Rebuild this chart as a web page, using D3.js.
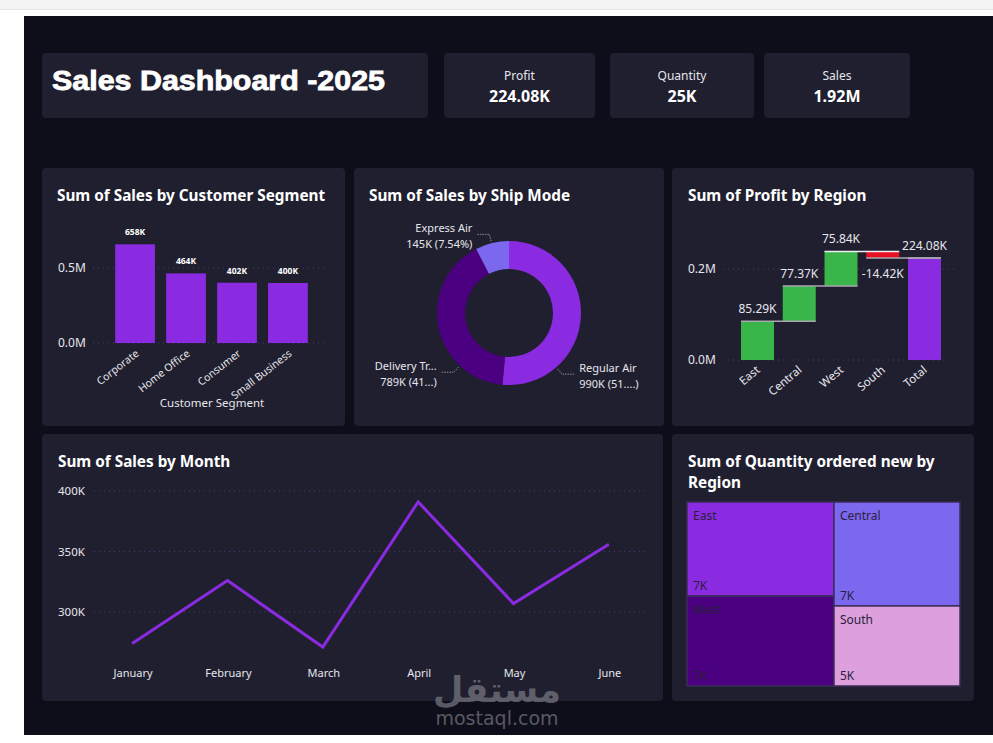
<!DOCTYPE html>
<html>
<head>
<meta charset="utf-8">
<script src="https://cdn.jsdelivr.net/npm/d3@7"></script>
<style>
body { margin: 0; background: #fff; }
svg { display: block; font-family: "Noto Sans", sans-serif; }
</style>
</head>
<body>
<div id="dash"></div>
<script>
// ---- data ----
var kpiNames = ["Profit", "Quantity", "Sales"]
var kpiValues = ["224.08K", "25K", "1.92M"]

var segments = ["Corporate", "Home Office", "Consumer", "Small Business"]
var segmentSales = [658000, 464000, 402000, 400000]
var segmentLabels = ["658K", "464K", "402K", "400K"]

var shipModes = ["Regular Air", "Delivery Truck", "Express Air"]
var shipSales = [990000, 789000, 145000]
var shipLabels = [["Regular Air", "990K (51....)"], ["Delivery Tr...", "789K (41...)"], ["Express Air", "145K (7.54%)"]]

var regions = ["East", "Central", "West", "South"]
var regionProfit = [85290, 77370, 75840, -14420]
var profitLabels = ["85.29K", "77.37K", "75.84K", "-14.42K"]
var totalLabel = "224.08K"

var months = ["January", "February", "March", "April", "May", "June"]
var monthSales = [274000, 326000, 271000, 391000, 307000, 356000]

var qtyRegions = ["East", "West", "Central", "South"]
var qtyValues = [6880, 6580, 6520, 5020]
var qtyLabels = ["7K", "7K", "7K", "5K"]

var purple = "#8a2be2", indigo = "#4b0082", slate = "#7b68ee", plum = "#dda0dd"
var panelFill = "#201f2f", txt = "#e6e6ec", grid = "#4a3a74"

var width = 993, height = 743

var svg = d3.select("#dash").append("svg")
  .attr("width", width)
  .attr("height", height)

// page chrome
svg.append("rect").attr("width", width).attr("height", 9).attr("fill", "#f3f3f3")
svg.append("line").attr("x1", 0).attr("x2", width).attr("y1", 9.5).attr("y2", 9.5).attr("stroke", "#e4e4e4")
svg.append("rect").attr("x", 24).attr("y", 16).attr("width", width - 24).attr("height", 719).attr("fill", "#0e0e1a")

function panel(x, y, w, h) {
  svg.append("rect").attr("x", x).attr("y", y).attr("width", w).attr("height", h)
    .attr("rx", 4).attr("fill", panelFill)
}
function title(x, y, s) {
  svg.append("text").attr("x", x).attr("y", y).text(s)
    .attr("fill", "#fff").attr("font-size", 15.3).attr("font-weight", "bold")
}

// ---- header ----
panel(42, 53, 386, 65)
svg.append("text").attr("x", 52).attr("y", 90).text("Sales Dashboard -2025")
  .attr("font-family", "Liberation Sans, Arial, sans-serif")
  .attr("font-weight", "bold").attr("font-size", 27)
  .attr("fill", "#fff").attr("stroke", "#fff").attr("stroke-width", 0.8)
  .attr("textLength", 333).attr("lengthAdjust", "spacingAndGlyphs")

var kpiBoxes = [[444, 151], [610, 144], [764, 146]]
kpiNames.forEach(function (k, i) {
  var b = kpiBoxes[i]
  panel(b[0], 53, b[1], 65)
  svg.append("text").attr("x", b[0] + b[1] / 2).attr("y", 80).text(k)
    .attr("text-anchor", "middle").attr("fill", txt).attr("font-size", 12)
  svg.append("text").attr("x", b[0] + b[1] / 2).attr("y", 102).text(kpiValues[i])
    .attr("text-anchor", "middle").attr("fill", "#fff").attr("font-size", 16).attr("font-weight", "bold")
})

// ---- Sum of Sales by Customer Segment ----
panel(42, 168, 303, 258)
title(57, 201, "Sum of Sales by Customer Segment")

var xSeg = d3.scaleBand().domain(segments).range([105, 318]).paddingInner(0.22).paddingOuter(0.2)
var ySeg = d3.scaleLinear().domain([0, 500000]).range([343, 268])

var g1 = svg.append("g")
g1.selectAll(".grid").data([0, 500000]).enter().append("line")
  .attr("x1", 93).attr("x2", 325)
  .attr("y1", function (d) { return ySeg(d) }).attr("y2", function (d) { return ySeg(d) })
  .attr("stroke", grid).attr("stroke-dasharray", "1,4")
g1.selectAll(".yl").data([0, 500000]).enter().append("text")
  .attr("x", 58).attr("y", function (d) { return ySeg(d) + 4 })
  .text(function (d) { return d3.format(".1f")(d / 1e6) + "M" })
  .attr("fill", txt).attr("font-size", 12)
g1.selectAll("rect.bar").data(segmentSales).enter().append("rect")
  .attr("x", function (d, i) { return xSeg(segments[i]) })
  .attr("width", xSeg.bandwidth())
  .attr("y", function (d) { return ySeg(d) })
  .attr("height", function (d) { return ySeg(0) - ySeg(d) })
  .attr("fill", purple)
g1.selectAll(".vl").data(segmentSales).enter().append("text")
  .attr("x", function (d, i) { return xSeg(segments[i]) + xSeg.bandwidth() / 2 })
  .attr("y", function (d) { return ySeg(d) - 9 })
  .text(function (d, i) { return segmentLabels[i] })
  .attr("text-anchor", "middle").attr("fill", "#fff").attr("font-size", 8.5).attr("font-weight", "bold")
g1.selectAll(".xl").data(segments).enter().append("text")
  .attr("transform", function (d) { return "translate(" + (xSeg(d) + xSeg.bandwidth() / 2) + ",349) rotate(-38)" })
  .attr("text-anchor", "end").attr("dy", "0.7em")
  .text(function (d) { return d })
  .attr("fill", txt).attr("font-size", 10.5)
svg.append("text").attr("x", 212).attr("y", 407).text("Customer Segment")
  .attr("text-anchor", "middle").attr("fill", txt).attr("font-size", 11.5)

// ---- Sum of Sales by Ship Mode ----
panel(354, 168, 310, 258)
title(369, 201, "Sum of Sales by Ship Mode")

var cx = 509, cy = 313, rOut = 72, rIn = 44
var pie = d3.pie().sort(null)
var arcs = pie(shipSales)
var arc = d3.arc().innerRadius(rIn).outerRadius(rOut)
var shipColors = [purple, indigo, slate]
var g2 = svg.append("g").attr("transform", "translate(" + cx + "," + cy + ")")
g2.selectAll("path").data(arcs).enter().append("path")
  .attr("d", arc).attr("fill", function (d, i) { return shipColors[i] })

// leader-line angles (degrees clockwise from top), placed like the original
var labelAngles = [139, 223, 346]
function polar(a, r) {
  var t = a * Math.PI / 180
  return [Math.sin(t) * r, -Math.cos(t) * r]
}
shipModes.forEach(function (m, i) {
  var a = labelAngles[i]
  var p0 = polar(a, rOut + 2), p1 = polar(a, rOut + 9)
  var side = a < 180 ? 1 : -1
  var p2 = [p1[0] + side * 13, p1[1]]
  g2.append("polyline")
    .attr("points", [p0, p1, p2].map(function (p) { return p.join(",") }).join(" "))
    .attr("fill", "none").attr("stroke", "#8a8a96").attr("stroke-width", 1).attr("stroke-dasharray", "1.5,1")
  var t = g2.append("text")
    .attr("text-anchor", side > 0 ? "start" : "end")
    .attr("fill", txt).attr("font-size", 11)
  t.append("tspan").attr("x", p2[0] + side * 4).attr("y", p2[1] - 2).text(shipLabels[i][0])
  t.append("tspan").attr("x", p2[0] + side * 4).attr("y", p2[1] + 14).text(shipLabels[i][1])
})

// ---- Sum of Profit by Region (waterfall) ----
panel(672, 168, 302, 258)
title(688, 201, "Sum of Profit by Region")

var steps = []
var cum = 0
regionProfit.forEach(function (v, i) {
  steps.push({ name: regions[i], start: cum, end: cum + v, label: profitLabels[i], kind: v >= 0 ? "up" : "down" })
  cum += v
})
steps.push({ name: "Total", start: 0, end: cum, label: totalLabel, kind: "total" })

var xW = d3.scaleBand().domain(steps.map(function (d) { return d.name })).range([741, 941]).paddingInner(0.21).paddingOuter(0)
var yW = d3.scaleLinear().domain([0, 200000]).range([360, 269])
var wColors = { up: "#39b54a", down: "#e81123", total: purple }

var g3 = svg.append("g")
g3.selectAll(".grid").data([0, 200000]).enter().append("line")
  .attr("x1", 723).attr("x2", 955)
  .attr("y1", function (d) { return yW(d) }).attr("y2", function (d) { return yW(d) })
  .attr("stroke", grid).attr("stroke-dasharray", "1,4")
g3.selectAll(".yl").data([0, 200000]).enter().append("text")
  .attr("x", 688).attr("y", function (d) { return yW(d) + 4 })
  .text(function (d) { return d3.format(".1f")(d / 1e6) + "M" })
  .attr("fill", txt).attr("font-size", 12)
g3.selectAll("rect").data(steps).enter().append("rect")
  .attr("x", function (d) { return xW(d.name) })
  .attr("width", xW.bandwidth())
  .attr("y", function (d) { return yW(Math.max(d.start, d.end)) })
  .attr("height", function (d) { return Math.abs(yW(d.start) - yW(d.end)) })
  .attr("fill", function (d) { return wColors[d.kind] })
// connectors
steps.forEach(function (d, i) {
  var next = steps[Math.min(i + 1, steps.length - 1)]
  g3.append("line")
    .attr("x1", xW(d.name)).attr("x2", xW(next.name) + xW.bandwidth())
    .attr("y1", yW(d.end)).attr("y2", yW(d.end))
    .attr("stroke", i == 2 ? "#f0f0f0" : "#a8a8b0").attr("stroke-width", 1.5)
})
g3.selectAll(".vl").data(steps).enter().append("text")
  .attr("x", function (d) { return xW(d.name) + xW.bandwidth() / 2 })
  .attr("y", function (d) { return d.kind == "down" ? yW(d.end) + 20 : yW(d.end) - 8 })
  .text(function (d) { return d.label })
  .attr("text-anchor", "middle").attr("fill", txt).attr("font-size", 12)
g3.selectAll(".xl").data(steps).enter().append("text")
  .attr("transform", function (d) { return "translate(" + (xW(d.name) + xW.bandwidth() / 2 - 2) + ",365) rotate(-40)" })
  .attr("text-anchor", "end").attr("dy", "0.7em")
  .text(function (d) { return d.name })
  .attr("fill", txt).attr("font-size", 11.5)

// ---- Sum of Sales by Month ----
panel(42, 434, 621, 267)
title(58, 467, "Sum of Sales by Month")

var xM = d3.scalePoint().domain(months).range([94, 647]).padding(0.4)
var yM = d3.scaleLinear().domain([300000, 400000]).range([612, 491])
var mTicks = [300000, 350000, 400000]

var g4 = svg.append("g")
g4.selectAll(".grid").data(mTicks).enter().append("line")
  .attr("x1", 94).attr("x2", 647)
  .attr("y1", function (d) { return yM(d) }).attr("y2", function (d) { return yM(d) })
  .attr("stroke", grid).attr("stroke-dasharray", "1,4")
g4.selectAll(".yl").data(mTicks).enter().append("text")
  .attr("x", 58).attr("y", function (d) { return yM(d) + 4 })
  .text(function (d) { return d / 1000 + "K" })
  .attr("fill", txt).attr("font-size", 11.5)
g4.append("path").datum(monthSales)
  .attr("d", d3.line().x(function (d, i) { return xM(months[i]) }).y(function (d) { return yM(d) }))
  .attr("fill", "none").attr("stroke", purple).attr("stroke-width", 3)
g4.selectAll(".xl").data(months).enter().append("text")
  .attr("x", function (d) { return xM(d) + 1 }).attr("y", 677)
  .text(function (d) { return d })
  .attr("text-anchor", "middle").attr("fill", txt).attr("font-size", 11)

// ---- Sum of Quantity ordered new by Region (treemap) ----
panel(672, 434, 302, 267)
title(688, 467, "Sum of Quantity ordered new by")
title(688, 488, "Region")

var root = d3.hierarchy({ children: qtyValues.map(function (v, i) { return { name: qtyRegions[i], value: v, label: qtyLabels[i] } }) })
  .sum(function (d) { return d.value })
  .sort(function (a, b) { return b.value - a.value })
d3.treemap().size([273, 184]).paddingInner(0)(root)
var qtyColors = { East: purple, West: indigo, Central: slate, South: plum }
var g5 = svg.append("g").attr("transform", "translate(687,502)")
var cell = g5.selectAll("g").data(root.leaves()).enter().append("g")
  .attr("transform", function (d) { return "translate(" + d.x0 + "," + d.y0 + ")" })
cell.append("rect")
  .attr("width", function (d) { return d.x1 - d.x0 })
  .attr("height", function (d) { return d.y1 - d.y0 })
  .attr("fill", function (d) { return qtyColors[d.data.name] })
  .attr("stroke", "#3b2c58").attr("stroke-width", 1.5)
cell.append("text").attr("x", 6).attr("y", 18).text(function (d) { return d.data.name })
  .attr("fill", "#2a1f3a").attr("font-size", 12)
cell.append("text").attr("x", 6).attr("y", function (d) { return d.y1 - d.y0 - 6 }).text(function (d) { return d.data.label })
  .attr("fill", "#2a1f3a").attr("font-size", 12)

// ---- watermark ----
svg.append("text").attr("x", 497).attr("y", 702).text("مستقل")
  .attr("text-anchor", "middle").attr("font-family", "DejaVu Sans, sans-serif")
  .attr("font-weight", "bold").attr("font-size", 35)
  .attr("fill", "#8a8a92").attr("opacity", 0.6)
svg.append("text").attr("x", 497).attr("y", 725).text("mostaql.com")
  .attr("text-anchor", "middle").attr("font-family", "DejaVu Sans, sans-serif")
  .attr("font-size", 19)
  .attr("fill", "#8a8a92").attr("opacity", 0.6)
</script>
</body>
</html>
